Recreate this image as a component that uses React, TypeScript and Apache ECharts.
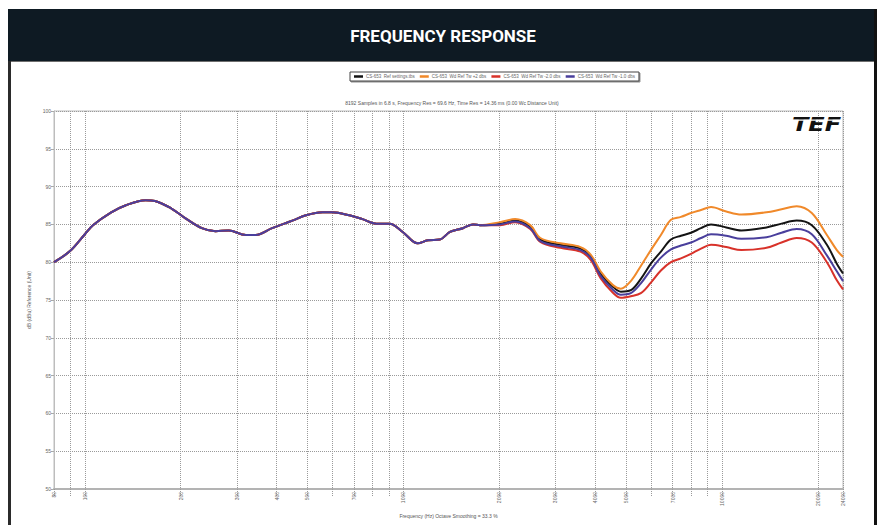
import { useEffect, useRef } from "react";
import * as echarts from "echarts";

// Frequency points (Hz)
const freqHz = [
  80, 90, 100, 106, 121, 134, 155, 166, 187, 207,
  233, 257, 283, 320, 344, 387, 448, 494, 557, 598,
  677, 744, 822, 905, 995, 1109, 1193, 1302, 1400, 1538,
  1655, 1740, 2013, 2244, 2502, 2692, 3113, 3597, 3873, 4160,
  4540, 4816, 5177, 5566, 5984, 6434, 6918, 7438, 7997, 8598,
  9245, 10320, 11510, 13800, 15390, 17170, 19150, 21360, 22950, 24000,
];

// Shared response below ~1.8 kHz (all four measurements coincide)
const sharedLow = [
  80.0, 81.5, 83.7, 84.9, 86.6, 87.5, 88.2, 88.1, 87.1, 85.8,
  84.5, 84.1, 84.2, 83.6, 83.6, 84.5, 85.5, 86.2, 86.6, 86.6,
  86.2, 85.7, 85.1, 85.1, 84.0, 82.5, 82.9, 83.0, 84.0, 84.5,
  85.0, 84.9,
];

const refHigh = [
  85.1, 85.5, 84.7, 83.0, 82.3, 81.8, 80.8, 78.5,
  76.8, 76.1, 76.3, 77.8, 79.8, 81.4, 83.0, 83.5, 83.9, 84.5,
  85.0, 84.6, 84.2, 84.6, 85.1, 85.5, 84.9, 82.3, 79.8, 78.5,
];
const plus2High = [
  85.3, 85.7, 84.9, 83.2, 82.5, 82.0, 81.0, 78.8,
  77.0, 76.5, 77.5, 79.5, 81.6, 83.6, 85.6, 86.0, 86.5, 86.9,
  87.3, 86.7, 86.3, 86.6, 87.0, 87.4, 86.5, 83.6, 81.6, 80.7,
];
const minus2High = [
  84.9, 85.3, 84.4, 82.7, 81.9, 81.4, 80.3, 77.9,
  76.0, 75.3, 75.5, 75.9, 77.3, 78.9, 80.0, 80.5, 81.1, 81.8,
  82.3, 82.0, 81.6, 81.9, 82.6, 83.2, 82.6, 80.0, 77.6, 76.4,
];
const minus1High = [
  85.0, 85.4, 84.5, 82.8, 82.1, 81.6, 80.6, 78.2,
  76.4, 75.7, 75.9, 77.2, 79.0, 80.6, 81.7, 82.2, 82.6, 83.2,
  83.7, 83.5, 83.1, 83.3, 83.9, 84.4, 83.7, 80.9, 78.8, 77.5,
];

const seriesNames = [
  "CS-653  Ref settings.tbs",
  "CS-653  Wd Ref Tw +2 dbs",
  "CS-653  Wd Ref Tw -2.0 dbs",
  "CS-653  Wd Ref Tw -1.0 dbs",
];
const seriesColors = ["#141414", "#f0892a", "#d8322a", "#4a3f9c"];
const seriesHigh = [refHigh, plus2High, minus2High, minus1High];

const gridFreqs = [
  80, 90, 100, 200, 300, 400, 500, 600, 700, 800, 900, 1000,
  2000, 3000, 4000, 5000, 6000, 7000, 8000, 9000, 10000, 20000, 24000,
];
const labelFreqs = [
  80, 100, 200, 300, 400, 500, 700, 1000, 2000, 3000, 4000, 5000,
  7000, 10000, 20000, 24000,
];

const yTicksMin = 50;
const yTicksMax = 100;
const yTickStep = 5;

export default function App() {
  const ref = useRef<HTMLDivElement>(null);
  useEffect(() => {
    const chart = echarts.init(ref.current!, null, { renderer: "svg" });
    const series = seriesNames.map((name, k) => {
      const vals = sharedLow.concat(seriesHigh[k]);
      return {
        name,
        type: "line",
        data: freqHz.map((f, i) => [f, vals[i]]),
        showSymbol: false,
        symbol: "none",
        smooth: 0.35,
        lineStyle: { width: 2, color: seriesColors[k] },
        itemStyle: { color: seriesColors[k] },
        z: 3 + k,
      };
    });
    const option: any = {
      animation: false,
      backgroundColor: "#ffffff",
      textStyle: { fontFamily: "Liberation Sans, Arial, sans-serif" },
      legend: {
        data: seriesNames,
        left: 350,
        top: 72,
        orient: "horizontal",
        icon: "rect",
        itemWidth: 9,
        itemHeight: 2.5,
        itemGap: 5,
        padding: [2, 4],
        borderColor: "#444",
        borderWidth: 1,
        backgroundColor: "#fff",
        shadowColor: "rgba(0,0,0,0.45)",
        shadowOffsetX: 1,
        shadowOffsetY: 1,
        shadowBlur: 0,
        textStyle: { fontSize: 4.5, color: "#666", padding: [0, 0, 0, -2] },
      },
      grid: {
        left: 54,
        right: 37,
        top: 111,
        bottom: 36,
        show: true,
        borderColor: "#bdbdbd",
        borderWidth: 1,
        backgroundColor: "#fff",
      },
      xAxis: {
        type: "log",
        logBase: 10,
        min: 80,
        max: 24000,
        name: "Frequency (Hz) Octave Smoothing = 33.3 %",
        nameLocation: "middle",
        nameGap: 23,
        nameTextStyle: { fontSize: 5, color: "#555" },
        axisLine: { show: true, lineStyle: { color: "#b3b3b3", width: 2 } },
        axisTick: {
          show: true,
          customValues: gridFreqs,
          length: 8,
          lineStyle: { color: "#999", type: "dotted" },
        },
        axisLabel: {
          customValues: labelFreqs,
          rotate: 90,
          fontSize: 5,
          color: "#666",
          margin: 3,
          formatter: (v: number) => String(Math.round(v)),
        },
        splitLine: {
          show: true,
          lineStyle: { color: "#9a9a9a", type: "dotted", width: 1 },
        },
        minorTick: { show: false },
        minorSplitLine: { show: false },
      },
      yAxis: {
        type: "value",
        min: yTicksMin,
        max: yTicksMax,
        interval: yTickStep,
        name: "dB (dBu) Reference (Unit)",
        nameLocation: "middle",
        nameGap: 12,
        nameTextStyle: { fontSize: 5, color: "#555" },
        axisLine: { show: true, lineStyle: { color: "#bdbdbd", width: 1 } },
        axisTick: { show: true, length: 3, lineStyle: { color: "#aaa" } },
        axisLabel: { fontSize: 5, color: "#666", margin: 3 },
        splitLine: {
          show: true,
          lineStyle: { color: "#9a9a9a", type: "dotted", width: 1 },
        },
      },
      graphic: [
        { type: "rect", shape: { x: 8, y: 9, width: 869, height: 52 }, style: { fill: "#0e1a23" }, z: 10 },
        { type: "rect", shape: { x: 8, y: 61, width: 869, height: 1 }, style: { fill: "#6e6e6e" }, z: 10 },
        { type: "rect", shape: { x: 8, y: 61, width: 3, height: 464 }, style: { fill: "#2b2b2b" }, z: 10 },
        { type: "rect", shape: { x: 874, y: 9, width: 3, height: 516 }, style: { fill: "#111" }, z: 10 },
        {
          type: "text",
          x: 443,
          y: 36,
          z: 11,
          style: {
            text: "FREQUENCY RESPONSE",
            fill: "#ffffff",
            font: 'bold 17px Roboto, "Open Sans", sans-serif',
            textAlign: "center",
            textVerticalAlign: "middle",
          },
        },
        {
          type: "text",
          x: 452,
          y: 103,
          z: 11,
          style: {
            text: "8192 Samples in 6.8 s, Frequency Res = 69.6 Hz, Time Res = 14.36 ms (0.00 Wc Distance Unit)",
            fill: "#555",
            font: "5px Liberation Sans, Arial, sans-serif",
            textAlign: "center",
            textVerticalAlign: "middle",
          },
        },
        {
          type: "text",
          x: 792,
          y: 124,
          z: 11,
          scaleX: 1.2,
          style: {
            text: "TEF",
            fill: "#111",
            font: 'italic 900 20px "DejaVu Sans", sans-serif',
            textAlign: "left",
            textVerticalAlign: "middle",
          },
        },
        { type: "rect", shape: { x: 790, y: 119.5, width: 52, height: 1.2 }, style: { fill: "#fff" }, z: 12 },
      ],
      series,
    };
    chart.setOption(option);
    return () => chart.dispose();
  }, []);
  return (
    <div
      ref={ref}
      style={{ position: "fixed", left: 0, top: 0, width: 880, height: 525, background: "#fff" }}
    />
  );
}
